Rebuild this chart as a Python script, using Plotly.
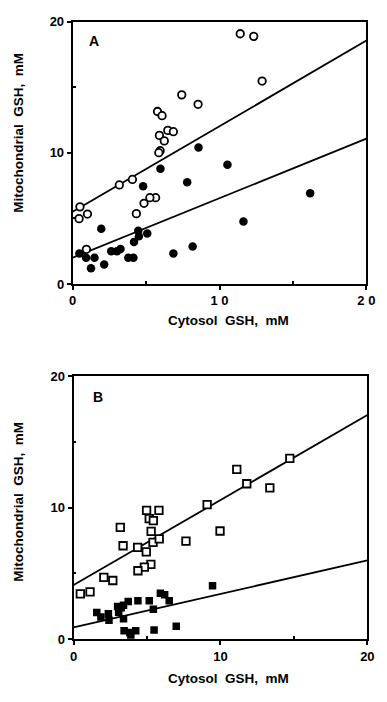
import plotly.graph_objects as go

# Panel A: open circles (x: cytosol GSH, y: mitochondrial GSH)
a_open_x = [11.41, 12.33, 12.90, 7.43, 8.54, 5.78, 6.09, 5.91, 6.24, 6.48, 6.86, 5.96, 5.87,
            4.07, 3.18, 0.50, 0.44, 1.01, 5.65, 5.26, 4.86, 4.34, 0.94]
a_open_y = [19.08, 18.88, 15.47, 14.42, 13.70, 13.15, 12.83, 11.33, 10.91, 11.71, 11.61, 10.16, 10.01,
            7.97, 7.55, 5.88, 4.98, 5.33, 6.58, 6.58, 6.15, 5.36, 2.64]
# Panel A: filled circles
a_fill_x = [8.57, 5.98, 10.54, 4.80, 7.80, 16.17, 11.63, 1.95, 4.47, 5.08, 4.51, 4.18, 8.17, 6.86,
            0.46, 3.26, 3.02, 2.63, 0.92, 1.49, 3.79, 4.14, 1.25, 2.15]
a_fill_y = [10.41, 8.79, 9.09, 7.45, 7.75, 6.92, 4.76, 4.21, 4.06, 3.84, 3.64, 3.19, 2.86, 2.32,
            2.32, 2.66, 2.49, 2.49, 1.99, 1.99, 1.99, 1.99, 1.20, 1.49]
# Panel A regression lines
fit_x = [0, 20]
a_open_fit_y = [5.5, 18.56]
a_fill_fit_y = [2.0, 11.08]

# Panel B: open squares
b_open_x = [14.72, 11.11, 11.79, 13.36, 9.09, 9.97, 4.97, 5.81, 5.15, 5.43, 5.28, 3.18, 3.37, 4.36,
            4.95, 5.41, 5.83, 7.65, 5.26, 4.82, 4.38, 2.06, 2.67, 0.46, 1.12]
b_open_y = [13.74, 12.90, 11.81, 11.49, 10.22, 8.22, 9.78, 9.78, 9.16, 9.01, 8.19, 8.49, 7.10, 6.98,
            6.63, 7.35, 7.62, 7.45, 5.69, 5.47, 5.20, 4.70, 4.46, 3.44, 3.59]
# Panel B: filled squares
b_fill_x = [9.46, 5.91, 6.20, 6.51, 4.38, 3.72, 5.15, 5.43, 3.40, 3.00, 3.24, 1.58, 2.37, 1.86,
            2.41, 3.40, 3.07, 3.44, 3.83, 4.23, 3.90, 5.48, 6.99]
b_fill_y = [4.06, 3.49, 3.37, 2.92, 2.92, 2.87, 2.92, 2.28, 2.57, 2.48, 2.38, 2.03, 1.93, 1.68,
            1.44, 1.56, 2.05, 0.64, 0.50, 0.64, 0.32, 0.69, 0.99]
# Panel B regression lines
b_open_fit_y = [4.11, 17.03]
b_fill_fit_y = [0.89, 5.99]

x_ticks = [0, 10, 20]
x_ticktext_a = ["0", "1 0", "2 0"]
x_ticktext_b = ["0", "10", "20"]
y_ticks = [0, 10, 20]
x_title = "Cytosol  GSH,  mM"
y_title = "Mitochondrial  GSH,  mM"

FONT = "Liberation Sans, Arial, sans-serif"
W, H = 387, 702

fig = go.Figure()

def add_panel(xa, ya, ox, oy, fx, fy, ofit, ffit, sym_open, sym_fill, size_open, size_fill):
    fig.add_trace(go.Scatter(x=fit_x, y=ofit, mode="lines", line=dict(color="black", width=1.8),
                             xaxis=xa, yaxis=ya, showlegend=False, hoverinfo="skip"))
    fig.add_trace(go.Scatter(x=fit_x, y=ffit, mode="lines", line=dict(color="black", width=1.8),
                             xaxis=xa, yaxis=ya, showlegend=False, hoverinfo="skip"))
    fig.add_trace(go.Scatter(x=ox, y=oy, mode="markers",
                             marker=dict(symbol=sym_open, size=size_open, color="white",
                                         line=dict(color="black", width=1.8)),
                             xaxis=xa, yaxis=ya, showlegend=False))
    fig.add_trace(go.Scatter(x=fx, y=fy, mode="markers",
                             marker=dict(symbol=sym_fill, size=size_fill, color="black",
                                         line=dict(color="black", width=0)),
                             xaxis=xa, yaxis=ya, showlegend=False))

add_panel("x", "y", a_open_x, a_open_y, a_fill_x, a_fill_y, a_open_fit_y, a_fill_fit_y,
          "circle", "circle", 7.5, 8.5)
add_panel("x2", "y2", b_open_x, b_open_y, b_fill_x, b_fill_y, b_open_fit_y, b_fill_fit_y,
          "square", "square", 7.5, 7.5)

def yt(px):
    return 1 - px / H

def xt(px):
    return px / W

axis_common = dict(range=[0, 20], showgrid=False, zeroline=False, showline=True,
                   linecolor="black", linewidth=1.8, mirror=True, ticks="outside",
                   ticklen=4, tickwidth=1.5, tickcolor="black",
                   tickfont=dict(family=FONT, size=13, color="black", weight="bold"),
                   minor=dict(tickvals=[5, 15], ticks="inside", ticklen=3, tickwidth=1.5,
                              tickcolor="black"))

title_font = dict(family=FONT, size=13.5, color="black", weight="bold")

def ann(text, x, y, angle=0):
    return dict(text=text, x=xt(x), y=yt(y), xref="paper", yref="paper", showarrow=False,
                xanchor="center", yanchor="middle", textangle=angle, font=title_font)

fig.update_layout(
    width=W, height=H, margin=dict(l=0, r=0, t=0, b=0),
    paper_bgcolor="white", plot_bgcolor="white",
    xaxis=dict(axis_common, domain=[xt(71), xt(375)], anchor="y",
               tickvals=x_ticks, ticktext=x_ticktext_a),
    yaxis=dict(axis_common, domain=[yt(283), yt(15)], anchor="x",
               tickvals=y_ticks),
    xaxis2=dict(axis_common, domain=[xt(72), xt(376)], anchor="y2",
                tickvals=x_ticks, ticktext=x_ticktext_b),
    yaxis2=dict(axis_common, domain=[yt(646), yt(377)], anchor="x2",
                tickvals=y_ticks),
    annotations=[
        dict(text="<b>A</b>", x=1.45, y=18.5, xref="x", yref="y", showarrow=False,
             xanchor="center", yanchor="middle",
             font=dict(family=FONT, size=14, color="black")),
        dict(text="<b>B</b>", x=1.64, y=18.4, xref="x2", yref="y2", showarrow=False,
             xanchor="center", yanchor="middle",
             font=dict(family=FONT, size=14, color="black")),
        ann(x_title, 232, 320),
        ann(y_title, 15, 128, -90),
        ann(x_title, 232, 686),
        ann(y_title, 15, 505, -90),
    ],
)

fig.write_html("out.html")
